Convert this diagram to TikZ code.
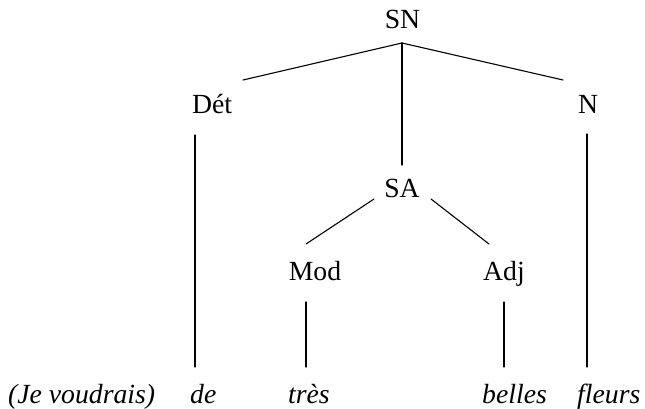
\documentclass[tikz,border=0pt]{standalone}
\usepackage{fontspec}
\setmainfont{Liberation Serif}
\begin{document}
\begin{tikzpicture}[x=1pt,y=-1pt,
  lab/.style={anchor=base,inner sep=0pt,font=\fontsize{27.7}{33}\selectfont},
  word/.style={lab,font=\fontsize{27.7}{33}\selectfont\itshape},
  branch/.style={line width=1.1pt,line cap=round}]
\useasboundingbox (0,0) rectangle (645,409);
% category labels
\node[lab] (SN)  at (402.5,29) {SN};
\node[lab] (Det) at (212,114) {Dét};
\node[lab] (N)   at (588,114) {N};
\node[lab] (SA)  at (402,197) {SA};
\node[lab] (Mod) at (315,280) {Mod};
\node[lab] (Adj) at (504,280) {Adj};
% words
\node[word,anchor=base west] (je) at (8,403) {(Je voudrais)};
\node[word,anchor=base west] (de) at (190,403) {de};
\node[word,anchor=base west] (tres) at (288,403) {très};
\node[word,anchor=base west] (belles) at (482,403) {belles};
\node[word,anchor=base west] (fleurs) at (577,403) {fleurs};
% connector end points
\coordinate (SNb) at (402,43);
\coordinate (DetT) at (243,80);
\coordinate (NT) at (563,80);
\coordinate (SAt) at (402,165);
\coordinate (SAl) at (374,199);
\coordinate (SAr) at (431,199);
\coordinate (ModT) at (306,244);
\coordinate (AdjT) at (489,244);
\coordinate (DetB) at (195,135);
\coordinate (deT) at (195,367);
\coordinate (NB) at (587,134);
\coordinate (fleursT) at (587,367);
\coordinate (ModB) at (306,302);
\coordinate (tresT) at (306,367);
\coordinate (AdjB) at (504,302);
\coordinate (bellesT) at (504,367);
% connectors
\draw[branch] (SNb) -- (DetT);
\draw[branch] (SNb) -- (NT);
\draw[branch] (SNb) -- (SAt);
\draw[branch] (SAl) -- (ModT);
\draw[branch] (SAr) -- (AdjT);
\draw[branch] (DetB) -- (deT);
\draw[branch] (NB) -- (fleursT);
\draw[branch] (ModB) -- (tresT);
\draw[branch] (AdjB) -- (bellesT);
\end{tikzpicture}
\end{document}
